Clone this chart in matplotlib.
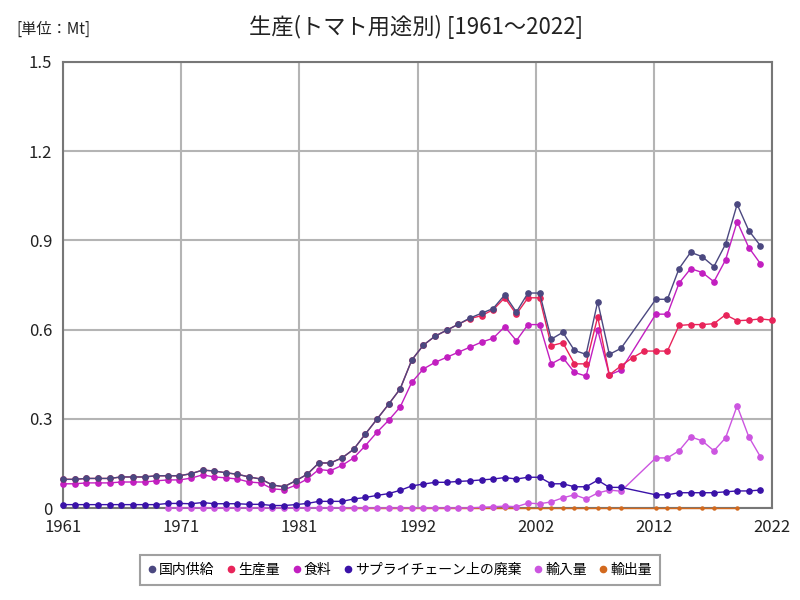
import numpy as np
import matplotlib
matplotlib.use("Agg")
import matplotlib.pyplot as plt

plt.rcParams["font.family"] = ["Noto Sans CJK JP", "DejaVu Sans"]

N = None
years = list(range(1961, 2023))

# 国内供給
domestic = [0.097, 0.097, 0.100, 0.100, 0.100, 0.105, 0.105, 0.105, 0.109, 0.109,
            0.109, 0.116, 0.128, 0.125, 0.119, 0.114, 0.105, 0.098, 0.078, 0.072,
            0.092, 0.114, 0.152, 0.152, 0.169, 0.198, 0.249, 0.299, 0.349, 0.401,
            0.498, 0.548, 0.578, 0.598, 0.618, 0.639, 0.655, 0.671, 0.717, 0.659,
            0.723, 0.723, 0.568, 0.591, 0.530, 0.517, 0.694, 0.517, 0.537, N,
            N, 0.702, 0.702, 0.805, 0.860, 0.845, 0.812, 0.887, 1.021, 0.933,
            0.882, N]
# 生産量
production = [0.097, 0.097, 0.100, 0.100, 0.100, 0.105, 0.105, 0.105, 0.109, 0.109,
              0.109, 0.116, 0.128, 0.125, 0.119, 0.114, 0.105, 0.098, 0.078, 0.072,
              0.092, 0.114, 0.152, 0.152, 0.169, 0.198, 0.249, 0.299, 0.349, 0.401,
              0.498, 0.548, 0.578, 0.598, 0.618, 0.637, 0.647, 0.667, 0.707, 0.652,
              0.707, 0.707, 0.546, 0.556, 0.485, 0.485, 0.643, 0.448, 0.478, 0.506,
              0.528, 0.528, 0.528, 0.614, 0.617, 0.617, 0.620, 0.650, 0.630, 0.632,
              0.636, 0.632]
# 食料
food = [0.082, 0.082, 0.085, 0.085, 0.085, 0.088, 0.088, 0.088, 0.092, 0.095,
        0.095, 0.101, 0.112, 0.105, 0.102, 0.098, 0.088, 0.085, 0.065, 0.062,
        0.077, 0.098, 0.130, 0.126, 0.144, 0.169, 0.210, 0.255, 0.295, 0.340,
        0.423, 0.468, 0.490, 0.507, 0.524, 0.541, 0.558, 0.571, 0.610, 0.563,
        0.617, 0.617, 0.485, 0.506, 0.456, 0.444, 0.599, 0.448, 0.464, N,
        N, 0.652, 0.652, 0.756, 0.805, 0.792, 0.761, 0.834, 0.963, 0.876,
        0.822, N]
# サプライチェーン上の廃棄
waste = [0.012, 0.012, 0.012, 0.012, 0.012, 0.012, 0.012, 0.012, 0.012, 0.016,
         0.016, 0.015, 0.019, 0.015, 0.015, 0.015, 0.013, 0.013, 0.009, 0.009,
         0.012, 0.016, 0.023, 0.023, 0.023, 0.031, 0.036, 0.043, 0.049, 0.060,
         0.075, 0.081, 0.087, 0.087, 0.090, 0.092, 0.095, 0.098, 0.103, 0.098,
         0.104, 0.104, 0.082, 0.082, 0.072, 0.072, 0.094, 0.070, 0.070, N,
         N, 0.045, 0.045, 0.052, 0.052, 0.052, 0.052, 0.055, 0.058, 0.058,
         0.061, N]
# 輸入量
imports = [N, N, N, N, N, N, N, N, N, 0.001,
           0.001, 0.001, 0.001, 0.001, 0.001, 0.001, 0.001, 0.001, 0.001, 0.001,
           0.001, 0.001, 0.001, 0.001, 0.001, 0.001, 0.001, 0.001, 0.001, 0.001,
           0.001, 0.001, 0.001, 0.001, 0.001, 0.001, 0.003, 0.005, 0.007, 0.005,
           0.017, 0.015, 0.021, 0.035, 0.045, 0.031, 0.051, 0.061, 0.057, N,
           N, 0.169, 0.169, 0.193, 0.240, 0.226, 0.193, 0.236, 0.344, 0.240,
           0.173, N]
# 輸出量
exports = [N] * 24 + [0.0003] * 25 + [N, N, 0.0003, 0.0003, 0.0003, N, 0.0003,
                                      0.0003, N, 0.0003, N, N, N]

series = [
    ("国内供給", domestic, "#4b4880"),
    ("生産量", production, "#e8245a"),
    ("食料", food, "#c21fc0"),
    ("サプライチェーン上の廃棄", waste, "#3a12a8"),
    ("輸入量", imports, "#cc55e0"),
    ("輸出量", exports, "#d2691e"),
]
zorders = [3.6, 3.5, 3.4, 3.3, 3.2, 3.1]
msizes = [3.8, 3.8, 3.8, 3.8, 3.8, 2.2]

fig = plt.figure(figsize=(8, 6), dpi=100)
ax = fig.add_axes([0.079, 0.153, 0.886, 0.744])

yrs = np.array(years, dtype=float)
handles = []
for (name, vals, col), z, ms in zip(series, zorders, msizes):
    v = np.array([np.nan if x is None else x for x in vals], dtype=float)
    m = ~np.isnan(v)
    h, = ax.plot(yrs[m], v[m], color=col, lw=1.0, marker="o", ms=ms,
                 mec=col, mfc=col, label=name, zorder=z, clip_on=False)
    handles.append(h)

ax.set_xlim(1961, 2022)
ax.set_ylim(0, 1.5)
xt = np.linspace(1961, 2022, 7)
ax.set_xticks(xt)
ax.set_xticklabels([str(int(np.floor(t + 0.5))) for t in xt])
ax.set_yticks([0, 0.3, 0.6, 0.9, 1.2, 1.5])
ax.set_yticklabels(["0", "0.3", "0.6", "0.9", "1.2", "1.5"])
ax.tick_params(length=0, labelsize=12, colors="#222222", pad=8)
ax.grid(True, color="#b4b4b4", lw=1.5)
ax.set_axisbelow(True)
for s in ax.spines.values():
    s.set_color("#777777")
    s.set_linewidth(1.5)

fig.text(0.52, 0.955, "生産(トマト用途別) [1961～2022]", ha="center", va="center",
         fontsize=16, color="#222222")
fig.text(0.02, 0.952, "[単位：Mt]", ha="left", va="center", fontsize=11, color="#222222")

leg = fig.legend(handles, [s[0] for s in series],
                 loc="center", bbox_to_anchor=(0.5, 0.05), ncol=6, fontsize=10,
                 frameon=True, fancybox=False, handlelength=0.6, handletextpad=0.2,
                 columnspacing=0.9, borderpad=0.6)
leg.get_frame().set_edgecolor("#888888")
leg.get_frame().set_linewidth(1.5)
for h in leg.legend_handles:
    h.set_linestyle("none")
    h.set_markersize(4.5)

fig.savefig("out.png", dpi=100)
